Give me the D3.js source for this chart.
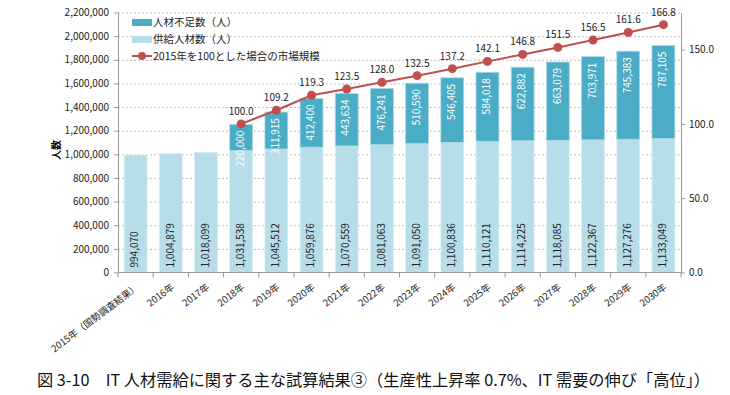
<html>
<head>
<meta charset="utf-8">
<script src="https://d3js.org/d3.v7.min.js"></script>
</head>
<style>
    body { margin: 0; background: #fff; }
    text { font-family: "Noto Sans CJK JP", "Noto Sans", sans-serif; }
    .gridlines line { stroke: #bfbfbf; stroke-dasharray: 2,2; }
    .gridlines .domain { stroke: none; }
    .axis path, .axis line { stroke: #999; }
</style>
<body>
<svg height="395" width="730" id="chart"></svg>
<script>
    let years = ['2015年（国勢調査結果）','2016年','2017年','2018年','2019年','2020年','2021年','2022年',
                 '2023年','2024年','2025年','2026年','2027年','2028年','2029年','2030年'];
    let supply = [994070,1004879,1018099,1031538,1045512,1059876,1070559,1081063,
                  1091050,1100836,1110121,1114225,1118085,1122367,1127276,1133049];
    let shortage = [null,null,null,220000,311915,412400,443634,476241,
                    510590,546405,584018,622882,663079,703971,745383,787105];
    let market = [null,null,null,100.0,109.2,119.3,123.5,128.0,
                  132.5,137.2,142.1,146.8,151.5,156.5,161.6,166.8];
    let leftTicks = d3.range(0, 2200001, 200000);
    let rightTicks = [0, 50, 100, 150];

    let svg = d3.select('svg#chart');
    let m = { top: 12.5, left: 118, right: 681, bottom: 272.5 };

    let x = d3.scaleBand().domain(years).range([m.left, m.right]).paddingInner(0.35).paddingOuter(0.175);
    let y = d3.scaleLinear().domain([0, 2200000]).range([m.bottom, m.top]);
    let y2 = d3.scaleLinear().domain([0, 175]).range([m.bottom, m.top]);

    // gridlines
    svg.append('g')
        .attr('class', 'gridlines')
        .attr('transform', `translate(${m.left},0)`)
        .call(d3.axisLeft(y).tickValues(leftTicks.slice(1)).tickFormat('').tickSize(-(m.right - m.left)));

    // left axis
    let yAxis = svg.append('g')
        .attr('class', 'axis')
        .attr('transform', `translate(${m.left},0)`)
        .call(d3.axisLeft(y).tickValues(leftTicks).tickFormat(d3.format(',')).tickSize(4).tickSizeOuter(0));
    yAxis.selectAll('text').attr('font-size', 10).attr('fill', '#222').attr('x', -9);

    // right axis
    let yAxis2 = svg.append('g')
        .attr('class', 'axis')
        .attr('transform', `translate(${m.right},0)`)
        .call(d3.axisRight(y2).tickValues(rightTicks).tickFormat(d3.format('.1f')).tickSize(4).tickSizeOuter(0));
    yAxis2.selectAll('text').attr('font-size', 10).attr('fill', '#222').attr('x', 8);

    // bars
    let bars = svg.append('g');
    bars.selectAll('rect.supply')
        .data(years)
        .join('rect')
        .attr('class', 'supply')
        .attr('x', d => x(d))
        .attr('width', x.bandwidth())
        .attr('y', (d, i) => y(supply[i]))
        .attr('height', (d, i) => y(0) - y(supply[i]))
        .attr('fill', '#b7dde8')
        .attr('stroke', '#dceff5')
        .attr('stroke-width', 0.8);

    let sIdx = years.map((d, i) => i).filter(i => shortage[i] != null);
    bars.selectAll('rect.shortage')
        .data(sIdx)
        .join('rect')
        .attr('class', 'shortage')
        .attr('x', i => x(years[i]))
        .attr('width', x.bandwidth())
        .attr('y', i => y(supply[i] + shortage[i]))
        .attr('height', i => y(supply[i]) - y(supply[i] + shortage[i]))
        .attr('fill', '#4bacc6')
        .attr('stroke', '#a9d8e6')
        .attr('stroke-width', 0.8);

    // x axis
    svg.append('line')
        .attr('x1', m.left).attr('x2', m.right)
        .attr('y1', m.bottom).attr('y2', m.bottom)
        .attr('stroke', '#999');
    let bounds = years.map(d => x(d) - x.step() * x.paddingInner() / 2).concat([m.right]);
    svg.append('g').selectAll('line')
        .data(bounds)
        .join('line')
        .attr('x1', d => d).attr('x2', d => d)
        .attr('y1', m.bottom).attr('y2', m.bottom + 5)
        .attr('stroke', '#999');

    svg.append('g').selectAll('text')
        .data(years)
        .join('text')
        .attr('transform', d => `translate(${x(d) + x.bandwidth() / 2 + 4},${m.bottom + 16}) rotate(-37)`)
        .attr('text-anchor', 'end')
        .attr('font-size', 9.5)
        .attr('fill', '#222')
        .text(d => d);

    // value labels
    svg.append('g').selectAll('text')
        .data(years)
        .join('text')
        .attr('transform', (d, i) => `translate(${x(d) + x.bandwidth() / 2},${y(0) - 5}) rotate(-90)`)
        .attr('dominant-baseline', 'middle')
        .attr('font-size', 10)
        .attr('fill', '#222')
        .text((d, i) => d3.format(',')(supply[i]));

    svg.append('g').selectAll('text')
        .data(sIdx)
        .join('text')
        .attr('transform', i => `translate(${x(years[i]) + x.bandwidth() / 2},${y(supply[i] + shortage[i]) + 6}) rotate(-90)`)
        .attr('text-anchor', 'end')
        .attr('dominant-baseline', 'middle')
        .attr('font-size', 10)
        .attr('fill', '#fff')
        .text(i => d3.format(',')(shortage[i]));

    // market line
    let line = d3.line()
        .x(i => x(years[i]) + x.bandwidth() / 2)
        .y(i => y2(market[i]));
    svg.append('path')
        .datum(sIdx)
        .attr('d', line)
        .attr('fill', 'none')
        .attr('stroke', '#c0504d')
        .attr('stroke-width', 2);
    svg.append('g').selectAll('circle')
        .data(sIdx)
        .join('circle')
        .attr('cx', i => x(years[i]) + x.bandwidth() / 2)
        .attr('cy', i => y2(market[i]))
        .attr('r', 4.5)
        .attr('fill', '#c0504d');
    svg.append('g').selectAll('text')
        .data(sIdx)
        .join('text')
        .attr('x', i => x(years[i]) + x.bandwidth() / 2)
        .attr('y', i => y2(market[i]) - 9)
        .attr('text-anchor', 'middle')
        .attr('font-size', 10)
        .attr('fill', '#222')
        .text(i => d3.format('.1f')(market[i]));

    // y title
    svg.append('text')
        .attr('transform', `translate(60,150) rotate(-90)`)
        .attr('text-anchor', 'middle')
        .attr('font-size', 10)
        .attr('font-weight', 'bold')
        .text('人数');

    // legend
    let legend = svg.append('g').attr('transform', 'translate(132,22)');
    let items = [
        { label: '人材不足数（人）', color: '#4bacc6', kind: 'bar' },
        { label: '供給人材数（人）', color: '#b7dde8', kind: 'bar' },
        { label: '2015年を100とした場合の市場規模', color: '#c0504d', kind: 'line' }
    ];
    let li = legend.selectAll('g').data(items).join('g')
        .attr('transform', (d, i) => `translate(0,${i * 17})`);
    li.filter(d => d.kind == 'bar').append('rect')
        .attr('x', 0).attr('y', -3).attr('width', 20).attr('height', 7).attr('fill', d => d.color);
    li.filter(d => d.kind == 'line').append('line')
        .attr('x1', 0).attr('x2', 20).attr('y1', 0).attr('y2', 0).attr('stroke', d => d.color).attr('stroke-width', 2);
    li.filter(d => d.kind == 'line').append('circle')
        .attr('cx', 10).attr('cy', 0).attr('r', 4).attr('fill', d => d.color);
    li.append('text').attr('x', 21).attr('y', 4).attr('font-size', 10.5).attr('fill', '#222').text(d => d.label);

    // caption
    svg.append('text')
        .attr('x', 37)
        .attr('y', 386)
        .attr('font-size', 16)
        .attr('textLength', 673)
        .attr('lengthAdjust', 'spacingAndGlyphs')
        .attr('fill', '#111')
        .text('図 3-10　IT 人材需給に関する主な試算結果③（生産性上昇率 0.7%、IT 需要の伸び「高位」）');
</script>
</body>
</html>
